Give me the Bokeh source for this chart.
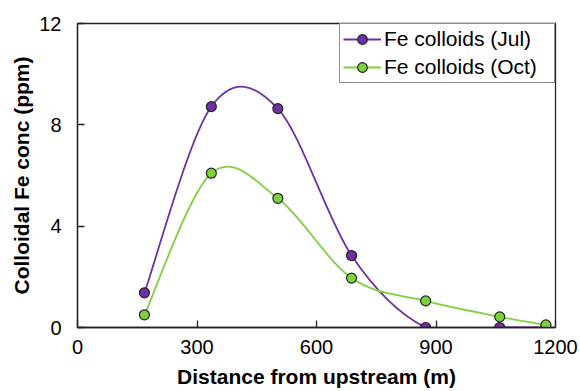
from bokeh.plotting import figure
from bokeh.models import FixedTicker, Legend, LegendItem, ColumnDataSource, Range1d
from bokeh.embed import file_html
from bokeh.resources import INLINE

# Data
distance = [168, 336, 503, 688, 874, 1060, 1176]
fe_jul = [1.37, 8.72, 8.64, 2.84, 0.0, 0.0, 0.0]
fe_oct = [0.50, 6.09, 5.10, 1.95, 1.05, 0.42, 0.10]
x_ticks = [0, 300, 600, 900, 1200]
y_ticks = [0, 4, 8, 12]

JUL_COLOR = "#7030A0"
OCT_COLOR = "#7ED03E"
FONT = "Liberation Sans"


def smooth_segments(xs, ys):
    """Bezier segments of a smoothed line (Catmull-Rom style, as in spreadsheet charts)."""
    n = len(xs)
    d = dict(x0=[], y0=[], x1=[], y1=[], cx0=[], cy0=[], cx1=[], cy1=[])
    for i in range(n - 1):
        p0 = (xs[max(i - 1, 0)], ys[max(i - 1, 0)])
        p1 = (xs[i], ys[i])
        p2 = (xs[i + 1], ys[i + 1])
        p3 = (xs[min(i + 2, n - 1)], ys[min(i + 2, n - 1)])
        d["x0"].append(p1[0]); d["y0"].append(p1[1])
        d["x1"].append(p2[0]); d["y1"].append(p2[1])
        d["cx0"].append(p1[0] + (p2[0] - p0[0]) / 6.0)
        d["cy0"].append(p1[1] + (p2[1] - p0[1]) / 6.0)
        d["cx1"].append(p2[0] - (p3[0] - p1[0]) / 6.0)
        d["cy1"].append(p2[1] - (p3[1] - p1[1]) / 6.0)
    return ColumnDataSource(d)


p = figure(frame_width=478, frame_height=304,
           min_border_left=77, min_border_right=25, min_border_top=23, min_border_bottom=63,
           x_range=Range1d(0, 1200), y_range=Range1d(0, 12),
           output_backend="svg", toolbar_location=None, tools="")
p.background_fill_color = "white"
p.border_fill_color = "white"
p.outline_line_color = "#222222"
p.outline_line_width = 1.3
p.xgrid.visible = False
p.ygrid.visible = False

for ax in (p.xaxis[0], p.yaxis[0]):
    ax.axis_line_color = "#222222"
    ax.axis_line_width = 1.3
    ax.major_tick_line_color = "#222222"
    ax.major_tick_line_width = 1.3
    ax.major_tick_in = 7
    ax.major_tick_out = 0
    ax.minor_tick_line_color = None
    ax.major_label_text_font = FONT
    ax.major_label_text_font_size = "20px"
    ax.major_label_text_color = "black"
    ax.axis_label_text_font = FONT
    ax.axis_label_text_font_size = "21px"
    ax.axis_label_text_font_style = "bold"
    ax.axis_label_text_color = "black"

p.xaxis.ticker = FixedTicker(ticks=x_ticks)
p.yaxis.ticker = FixedTicker(ticks=y_ticks)
p.xaxis.axis_label = "Distance from upstream (m)"
p.yaxis.axis_label = "Colloidal Fe conc (ppm)"
p.xaxis.major_label_standoff = 12
p.xaxis.axis_label_standoff = 8
p.yaxis.major_label_standoff = 16
p.yaxis.axis_label_standoff = 3

items = []
for name, ys, col in (("Fe colloids (Jul)", fe_jul, JUL_COLOR),
                      ("Fe colloids (Oct)", fe_oct, OCT_COLOR)):
    curve = p.bezier(x0="x0", y0="y0", x1="x1", y1="y1", cx0="cx0", cy0="cy0",
                     cx1="cx1", cy1="cy1", source=smooth_segments(distance, ys),
                     line_color=col, line_width=1.8)
    pts = p.scatter(x=distance, y=ys, size=10, fill_color=col,
                    line_color="#222222", line_width=1.2)
    items.append(LegendItem(label=name, renderers=[curve, pts]))

legend = Legend(items=items, location="top_right", margin=0, padding=3, spacing=4,
                glyph_width=38, glyph_height=24, label_height=24, label_width=167,
                label_standoff=3,
                label_text_font=FONT, label_text_font_size="21px",
                label_text_color="black",
                border_line_color="#222222", border_line_width=1.3,
                background_fill_color="white", background_fill_alpha=1.0)
p.add_layout(legend, "center")

open("out.html", "w").write(file_html(p, INLINE))
